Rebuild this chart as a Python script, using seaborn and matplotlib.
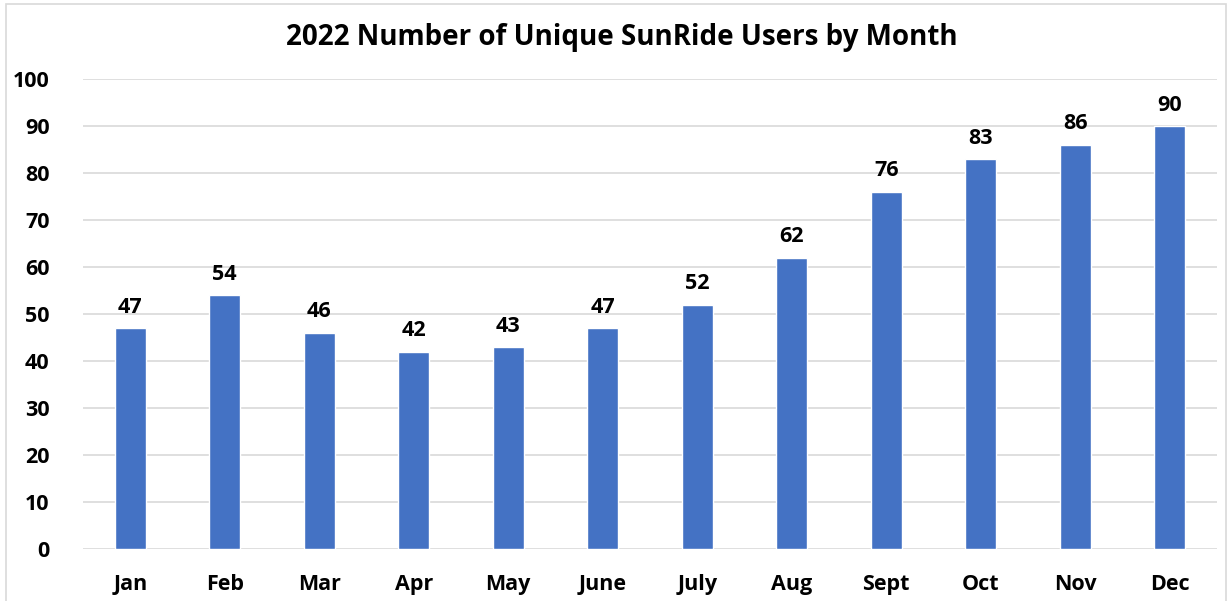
import matplotlib
matplotlib.use("Agg")
import matplotlib.pyplot as plt
from matplotlib.patches import Rectangle
import seaborn as sns
import pandas as pd

months = ["Jan", "Feb", "Mar", "Apr", "May", "June", "July", "Aug", "Sept", "Oct", "Nov", "Dec"]
users = [47, 54, 46, 42, 43, 47, 52, 62, 76, 83, 86, 90]
y_ticks = [0, 10, 20, 30, 40, 50, 60, 70, 80, 90, 100]

sns.set_theme(style="white")
plt.rcParams["font.family"] = ["Open Sans", "DejaVu Sans"]

df = pd.DataFrame({"month": months, "users": users})

fig = plt.figure(figsize=(12.32, 6.01), dpi=100)
ax = fig.add_axes([83 / 1232, 1 - 549 / 601, (1217 - 83) / 1232, (549 - 79) / 601])

sns.barplot(data=df, x="month", y="users", color="#4472C4", saturation=1,
            width=0.33, ax=ax)

ax.set_ylim(0, 100)
ax.set_xlim(-0.5, len(months) - 0.5)
ax.set_yticks(y_ticks)
ax.yaxis.grid(True, color="#D9D9D9", linewidth=1.2)
ax.set_axisbelow(True)
for s in ax.spines.values():
    s.set_visible(False)
ax.tick_params(axis="both", length=0, labelsize=15.5)
ax.tick_params(axis="y", pad=24)
ax.tick_params(axis="x", pad=18)
for lab in ax.get_xticklabels() + ax.get_yticklabels():
    lab.set_fontweight("bold")
    lab.set_color("black")
ax.set_xlabel("")
ax.set_ylabel("")

for i, v in enumerate(users):
    ax.text(i, v + 2.2, f"{v}", ha="center", va="bottom", fontsize=15.5,
            fontweight="bold", color="black")

fig.text(622 / 1232, 1 - 37 / 601, "2022 Number of Unique SunRide Users by Month",
         ha="center", va="center", fontsize=20, fontweight="bold", color="black")

fig.patches.append(Rectangle((6 / 1232, -0.01), (1226 - 6) / 1232, 1 - 4 / 601 + 0.01,
                             transform=fig.transFigure, fill=False,
                             edgecolor="#D9D9D9", linewidth=1.2))

fig.savefig("out.png", dpi=100)
